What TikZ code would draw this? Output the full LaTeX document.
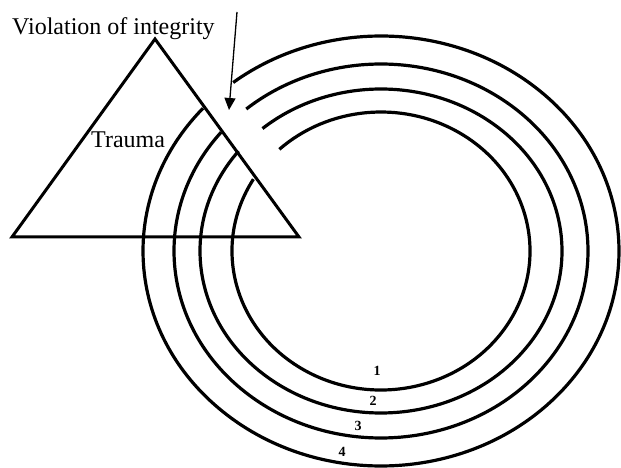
\documentclass[tikz,border=0pt]{standalone}
\usepackage{fontspec}
\setmainfont{Liberation Serif}
\usetikzlibrary{arrows.meta}
\begin{document}
\begin{tikzpicture}[x=1pt,y=1pt,
  ring/.style={line width=3.2pt},
  tri/.style={line width=3pt, line join=miter},
  lbl/.style={inner sep=0pt, font=\fontsize{24}{28}\selectfont},
  num/.style={inner sep=0pt, font=\fontsize{14}{16}\selectfont\bfseries},
  pointer/.style={line width=1.3pt, -{Triangle[length=12pt,width=11pt]}}]
\useasboundingbox (0,0) rectangle (621,468);
\coordinate (c) at (381,217);
% rings with a gap at upper left
\draw[ring] (c) ++(138.4:238 and 215) arc[start angle=138.4, end angle=488.4, x radius=238, y radius=215];
\draw[ring] (c) ++(140.6:207 and 187) arc[start angle=140.6, end angle=490.6, x radius=207, y radius=187];
\draw[ring] (c) ++(141.9:181 and 162) arc[start angle=141.9, end angle=490.9, x radius=181, y radius=162];
\draw[ring] (c) ++(148.9:149 and 139) arc[start angle=148.9, end angle=493, x radius=149, y radius=139];
% triangle
\coordinate (apex) at (155,429);
\coordinate (bl) at (12,231);
\coordinate (br) at (299,231);
\draw[tri] (apex) -- (bl) -- (br) -- cycle;
% labels
\node[lbl, anchor=base west] (viol) at (12,433) {Violation of integrity};
\node[lbl, anchor=base west] (trauma) at (91,320) {Trauma};
\coordinate (arrtop) at (237,456);
\coordinate (arrtip) at (229,358);
\draw[pointer] (arrtop) -- (arrtip);
\node[num] (n1) at (377,97) {1};
\node[num] (n2) at (373,67) {2};
\node[num] (n3) at (358,42) {3};
\node[num] (n4) at (342,16) {4};
\end{tikzpicture}
\end{document}
